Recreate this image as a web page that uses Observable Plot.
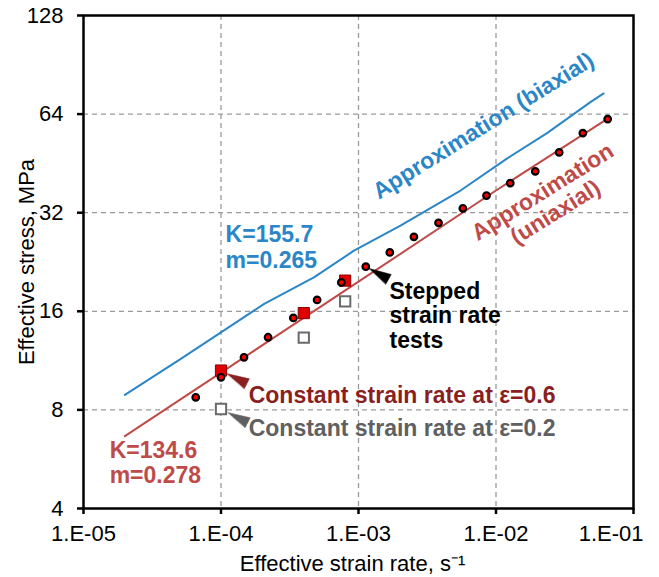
<!DOCTYPE html>
<html>
<head>
<meta charset="utf-8">
<script src="https://cdn.jsdelivr.net/npm/d3@7"></script>
<script src="https://cdn.jsdelivr.net/npm/@observablehq/plot@0.6"></script>
<style>
  html, body { margin: 0; padding: 0; background: #fff; }
</style>
</head>
<body>
<div id="chart"></div>
<script>
// ---- Data ----
const stepRate   = [6.55e-5, 1.0e-4, 1.47e-4, 2.2e-4, 3.36e-4, 5.0e-4, 7.5e-4, 1.13e-3, 1.69e-3, 2.53e-3, 3.82e-3, 5.74e-3, 8.53e-3, 1.27e-2, 1.93e-2, 2.88e-2, 4.28e-2, 6.49e-2];
const stepStress = [8.74, 10.06, 11.58, 13.33, 15.27, 17.33, 19.6, 21.9, 24.2, 27.0, 29.8, 33.0, 36.1, 39.4, 42.8, 48.9, 56.0, 61.8];

const const06Rate   = [1e-4, 4e-4, 8e-4];
const const06Stress = [10.55, 15.8, 19.85];
const const02Rate   = [1e-4, 4e-4, 8e-4];
const const02Stress = [8.05, 13.3, 17.16];

const biaxRate   = [2.0e-5, 5.1e-5, 1.0e-4, 2.06e-4, 4.74e-4, 9.27e-4, 2.02e-3, 5.52e-3, 1.2e-2, 2.35e-2, 4.86e-2, 6.07e-2];
const biaxStress = [8.89, 11.45, 13.8, 16.85, 20.3, 24.5, 29.2, 37.4, 46.8, 56.0, 69.6, 74.0];

const uniRate   = [2.0e-5, 1e-4, 1e-3, 1e-2, 6.5e-2];
const uniStress = [6.65, 10.4, 19.7, 37.4, 62.0];

const xTicks = [1e-5, 1e-4, 1e-3, 1e-2, 1e-1];
const xTickLabels = ["1.E-05", "1.E-04", "1.E-03", "1.E-02", "1.E-01"];
const yTicks = [4, 8, 16, 32, 64, 128];
const yTickLabels = ["4", "8", "16", "32", "64", "128"];

const xTitle = "Effective strain rate, s\u207B\u00B9";
const yTitle = "Effective stress, MPa";

// ---- Build tables ----
const zip = (xs, ys) => xs.map((x, i) => ({x, y: ys[i]}));
const stepped = zip(stepRate, stepStress);
const c06 = zip(const06Rate, const06Stress);
const c02 = zip(const02Rate, const02Stress);
const biax = zip(biaxRate, biaxStress);
const uni = zip(uniRate, uniStress);

// colours
const BLUE = "#2B86C8";
const RED = "#BE4B48";
const DARKRED = "#8A1F1F";
const GRAY = "#606060";

const annFont = {fontSize: 23, fontWeight: "bold"};

// triangle pointer shape: apex near the marker, base further away
const pointer = {
  draw(context, l, r) {
    context.moveTo(0, -(l - 22));
    context.lineTo(-r, -l);
    context.lineTo(r, -l);
    context.closePath();
  }
};

const grid = {stroke: "#9a9a9a", strokeOpacity: 1, strokeDasharray: "5,4", strokeWidth: 1.3};

const chart = Plot.plot({
  width: 659,
  height: 577,
  marginLeft: 83,
  marginRight: 26,
  marginTop: 15,
  marginBottom: 69,
  style: {fontFamily: "'Liberation Sans', Arial, sans-serif", fontSize: "22px", background: "white", color: "black"},
  x: {type: "log", domain: [1e-5, 1e-1]},
  y: {type: "log", base: 2, domain: [4, 128]},
  marks: [
    Plot.gridX({ticks: xTicks.slice(1, 4), ...grid}),
    Plot.gridY({ticks: yTicks.slice(1, 5), ...grid}),
    Plot.axisY({ticks: yTicks, tickFormat: d => yTickLabels[yTicks.indexOf(d)], tickSize: 6, tickPadding: 14, strokeWidth: 2.5, label: null, fontSize: 22}),
    Plot.axisX({ticks: xTicks, tickFormat: d => (d === 1e-1 ? "" : xTickLabels[xTicks.indexOf(d)]), tickSize: 6, tickPadding: 11, strokeWidth: 2.5, label: null, fontSize: 22}),
    Plot.axisX({ticks: [1e-1], tickFormat: d => xTickLabels[xTicks.indexOf(d)], tickSize: 0, tickPadding: 17, textAnchor: "end", dx: 10, label: null, fontSize: 22}),
    Plot.frame({stroke: "black", strokeWidth: 2.5}),
    Plot.text([yTitle], {text: d => d, frameAnchor: "left", rotate: -90, lineAnchor: "bottom", textAnchor: "middle", dx: -50, fontSize: 22}),
    Plot.text([xTitle], {text: d => d, frameAnchor: "bottom", lineAnchor: "bottom", textAnchor: "middle", dx: -6, dy: 62, fontSize: 22}),
    // approximation lines
    Plot.line(biax, {x: "x", y: "y", stroke: BLUE, strokeWidth: 2}),
    Plot.line(uni, {x: "x", y: "y", stroke: RED, strokeWidth: 2}),
    // markers
    Plot.dot(c02, {x: "x", y: "y", symbol: "square", r: 5.8, stroke: "#6a6a6a", strokeWidth: 2, fill: "white"}),
    Plot.dot(c06, {x: "x", y: "y", symbol: "square", r: 6.3, stroke: "#8B0000", strokeWidth: 1, fill: "#E00000"}),
    Plot.dot(stepped, {x: "x", y: "y", r: 3.3, stroke: "black", strokeWidth: 2.2, fill: "#FF0000"}),
    // pointers
    Plot.vector([stepped[7]], {x: "x", y: "y", anchor: "start", rotate: 119, length: 26, r: 5.5, shape: pointer, fill: "black", stroke: "black", strokeWidth: 0.5}),
    Plot.vector([c06[0]], {x: "x", y: "y", anchor: "start", rotate: 117, length: 29, r: 5.5, shape: pointer, fill: DARKRED, stroke: DARKRED, strokeWidth: 0.5}),
    Plot.vector([c02[0]], {x: "x", y: "y", anchor: "start", rotate: 117, length: 30, r: 5.5, shape: pointer, fill: GRAY, stroke: GRAY, strokeWidth: 0.5}),
    // annotations
    Plot.text(["K=155.7\nm=0.265"], {text: d => d, x: 1.08e-4, y: 21.75, textAnchor: "start", lineAnchor: "bottom", lineHeight: 1.1, fill: BLUE, ...annFont}),
    Plot.text(["K=134.6\nm=0.278"], {text: d => d, x: 1.55e-5, y: 4.77, textAnchor: "start", lineAnchor: "bottom", lineHeight: 1.1, fill: RED, ...annFont}),
    Plot.text(["Constant strain rate at \u03B5=0.6"], {text: d => d, x: 1.59e-4, y: 8.38, textAnchor: "start", lineAnchor: "bottom", fill: DARKRED, ...annFont}),
    Plot.text(["Constant strain rate at \u03B5=0.2"], {text: d => d, x: 1.59e-4, y: 6.68, textAnchor: "start", lineAnchor: "bottom", fill: GRAY, ...annFont}),
    Plot.text(["Stepped\nstrain rate\ntests"], {text: d => d, x: 1.68e-3, y: 12.4, textAnchor: "start", lineAnchor: "bottom", lineHeight: 1.06, fill: "black", ...annFont}),
    Plot.text(["Approximation (biaxial)"], {text: d => d, x: 8.65e-3, y: 56.4, rotate: -32, textAnchor: "middle", lineAnchor: "bottom", fill: BLUE, ...annFont}),
    Plot.text(["Approximation\n(uniaxial)"], {text: d => d, x: 2.89e-2, y: 30.7, rotate: -32, textAnchor: "middle", lineAnchor: "bottom", lineHeight: 1.05, fill: RED, ...annFont})
  ]
});
document.getElementById("chart").appendChild(chart);
</script>
</body>
</html>
